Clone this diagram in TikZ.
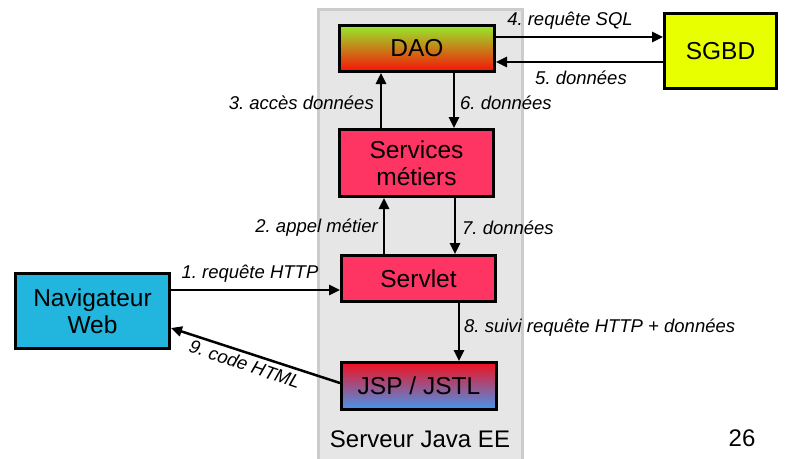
\documentclass[tikz,border=0pt]{standalone}
\usepackage{fontspec}
\setmainfont{Liberation Sans}
\usetikzlibrary{arrows.meta}
\frenchspacing
\definecolor{srvgray}{HTML}{E6E6E6}
\definecolor{srvedge}{HTML}{CCCCCC}
\definecolor{pinkred}{HTML}{FE3463}
\definecolor{navblue}{HTML}{22B5DD}
\definecolor{sgbdyellow}{HTML}{E8FF00}
\definecolor{daogreen}{HTML}{96EA2A}
\definecolor{daored}{HTML}{F81208}
\definecolor{jspred}{HTML}{F2101E}
\definecolor{jspblue}{HTML}{4596F0}
\tikzset{
  box/.style={draw=black, line width=3pt, align=center, inner sep=0pt,
    font=\fontsize{24.5}{27}\selectfont},
  arr/.style={line width=2.5pt, -{Triangle[length=11pt,width=10pt]}},
  lbl/.style={font=\fontsize{18.5}{21}\selectfont\itshape, inner sep=0pt}
}
\begin{document}
\begin{tikzpicture}[x=1pt,y=-1pt]
\useasboundingbox (0,0) rectangle (789,458);
\fill[white] (0,0) rectangle (789,458);
\draw[fill=srvgray, draw=srvedge, line width=3pt] (318,9) rectangle (522,462);

\node[box, top color=daogreen, bottom color=daored, minimum width=155pt, minimum height=46pt] (dao) at (417,48.5) {DAO};
\node[box, fill=pinkred, minimum width=154pt, minimum height=67pt] (svc) at (416.5,163) {Services\\m\'etiers};
\node[box, fill=pinkred, minimum width=154pt, minimum height=46pt] (sl) at (418.5,278.5) {Servlet};
\node[box, top color=jspred, bottom color=jspblue, minimum width=155pt, minimum height=47pt] (jsp) at (419,386) {JSP / JSTL};
\node[box, fill=navblue, minimum width=154pt, minimum height=75pt] (nav) at (92.5,311) {Navigateur\\Web};
\node[box, fill=sgbdyellow, minimum width=112pt, minimum height=75pt] (sgbd) at (720.5,51) {SGBD};

\draw[arr] ([yshift=11.5pt]dao.east) -- ([yshift=11.5pt]dao.east -| sgbd.west);
\draw[arr] ([yshift=-11pt]sgbd.west) -- ([yshift=-11pt]sgbd.west -| dao.east);
\draw[arr] ([xshift=-35.5pt]svc.north) -- ([xshift=-35.5pt]svc.north |- dao.south);
\draw[arr] ([xshift=37pt]dao.south) -- ([xshift=37pt]dao.south |- svc.north);
\draw[arr] ([xshift=-34.5pt]sl.north) -- ([xshift=-34.5pt]sl.north |- svc.south);
\draw[arr] ([xshift=38.5pt]svc.south) -- ([xshift=38.5pt]svc.south |- sl.north);
\draw[arr] ([yshift=21pt]nav.east) -- ([yshift=21pt]nav.east -| sl.west);
\draw[arr] ([xshift=40.5pt]sl.south) -- ([xshift=40.5pt]sl.south |- jsp.north);
\draw[arr] ([yshift=3pt]jsp.west) -- ([yshift=-17pt]nav.east);

\node[lbl] (l4) at (570,21) {4. requête SQL};
\node[lbl] (l5) at (581,78) {5. données};
\node[lbl, anchor=east] (l3) at (374,103) {3. accès données};
\node[lbl, anchor=west] (l6) at (460,103) {6. données};
\node[lbl, anchor=east] (l2) at (378,228) {2. appel métier};
\node[lbl, anchor=west] (l7) at (462,228) {7. données};
\node[lbl] (l1) at (250,274) {1. requête HTTP};
\node[lbl, anchor=west] (l8) at (464,328) {8. suivi requête HTTP + données};
\node[lbl, rotate=-19] (l9) at (245,364) {9. code HTML};

\node[font=\fontsize{24}{27}\selectfont, inner sep=0pt] (srv) at (420,439) {Serveur Java EE};
\node[font=\fontsize{24}{27}\selectfont, inner sep=0pt] (num) at (742,438) {26};
\end{tikzpicture}
\end{document}
